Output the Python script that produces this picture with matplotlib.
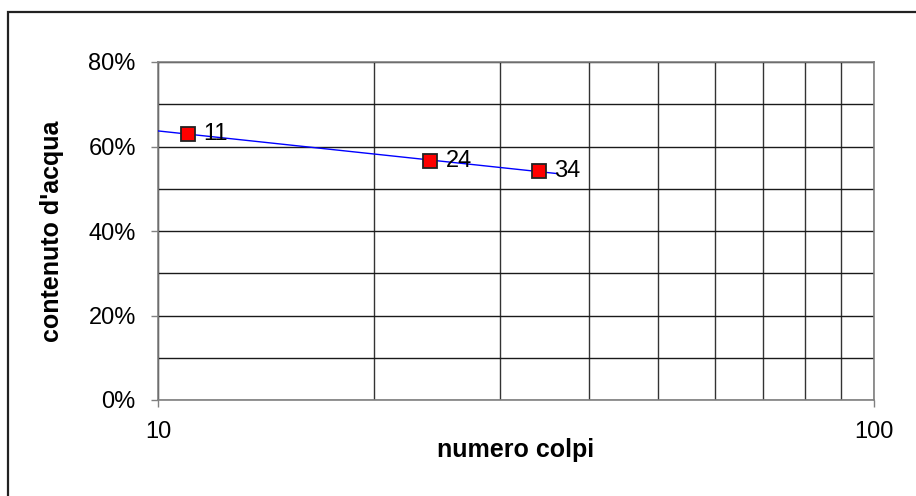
import numpy as np
import matplotlib
matplotlib.use("Agg")
import matplotlib.pyplot as plt
from matplotlib.patches import Rectangle
from matplotlib.ticker import FixedLocator, FixedFormatter, PercentFormatter, NullFormatter

# --- data ---
colpi = [11, 24, 34]             # numero colpi
acqua = [0.630, 0.566, 0.542]    # contenuto d'acqua
etichette = ["11", "24", "34"]
trend_x = [10, 36]               # range covered by the log trendline

y_ticks = [0.0, 0.2, 0.4, 0.6, 0.8]
y_grid = [0.1, 0.3, 0.5, 0.7]
x_ticks = [10, 100]
x_grid = [20, 30, 40, 50, 60, 70, 80, 90]

plt.rcParams['font.family'] = ['Liberation Sans', 'DejaVu Sans']
FS = 17

fig = plt.figure(figsize=(9.16, 4.96), dpi=100)
ax = fig.add_axes([158 / 916, 1 - 400 / 496, (874 - 158) / 916, (400 - 62) / 496])

# outer chart border (cut off on the right/bottom like the original)
fig.patches.append(Rectangle((7.5 / 916, -0.1), 1.2, 1 - 11.5 / 496 + 0.1,
                             transform=fig.transFigure, fill=False,
                             edgecolor='#222222', linewidth=1.6))

ax.set_xscale('log')
ax.set_xlim(10, 100)
ax.set_ylim(0, 0.8)

# log trendline (like Excel's logarithmic trend)
a, b = np.polyfit(np.log(colpi), acqua, 1)
tx = np.geomspace(trend_x[0], trend_x[1], 50)
ax.plot(tx, a * np.log(tx) + b, color='#0000ff', linewidth=1, zorder=3)

ax.plot(colpi, acqua, linestyle='none', marker='s', markersize=9.5,
        markerfacecolor='#ff0000', markeredgecolor='#222222',
        markeredgewidth=1.3, zorder=4)

for x, y, t in zip(colpi, acqua, etichette):
    ax.annotate(t, (x, y), xytext=(11, 0), textcoords='offset points',
                va='center', ha='left', fontsize=FS, zorder=5)

# grid
ax.xaxis.set_major_locator(FixedLocator(x_ticks))
ax.xaxis.set_major_formatter(FixedFormatter(["10", "100"]))
ax.xaxis.set_minor_locator(FixedLocator(x_grid))
ax.xaxis.set_minor_formatter(NullFormatter())
ax.yaxis.set_major_locator(FixedLocator(y_ticks))
ax.yaxis.set_minor_locator(FixedLocator(y_grid))
ax.yaxis.set_major_formatter(PercentFormatter(1.0, decimals=0))

ax.grid(True, which='both', axis='both', color='#1a1a1a', linewidth=1)
ax.grid(True, which='minor', axis='x', color='#333333', linewidth=1)

ax.tick_params(which='major', direction='out', length=5, width=1,
               color='#808080', labelsize=FS, pad=11)
ax.tick_params(axis='x', which='major', pad=10)
ax.tick_params(which='minor', length=0)

for s in ax.spines.values():
    s.set_color('#808080')
    s.set_linewidth(1.2)
ax.set_axisbelow(True)

ax.set_xlabel("numero colpi", fontsize=18, fontweight='bold')
ax.set_ylabel("contenuto d'acqua", fontsize=18, fontweight='bold')
ax.xaxis.set_label_coords(0.5, -0.112)
ax.yaxis.set_label_coords(-0.131, 0.5)

fig.savefig("out.png", dpi=100)
